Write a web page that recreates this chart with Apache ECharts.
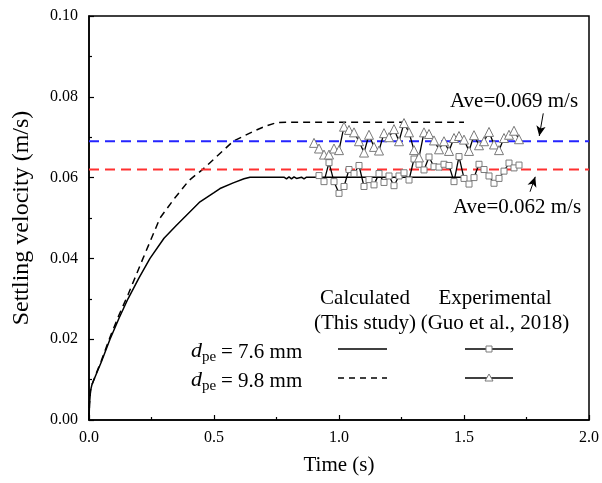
<!DOCTYPE html>
<html lang="en">
<head>
<meta charset="UTF-8">
<title>Settling velocity</title>
<script src="https://cdn.jsdelivr.net/npm/echarts@6/dist/echarts.min.js"></script>
<style>
  html, body { margin: 0; padding: 0; background: #fff; }
  #chart { width: 602px; height: 483px; }
</style>
</head>
<body>
<div id="chart"></div>
<script>
// calculated (this study), dpe = 7.6 mm
var calcTime76 = [0, 0.002, 0.006, 0.012, 0.03, 0.05, 0.084, 0.12, 0.156, 0.2, 0.244, 0.3, 0.35, 0.384, 0.444, 0.5, 0.524, 0.577, 0.62, 0.644, 0.7, 0.78, 0.79, 0.8, 0.81, 0.82, 0.83, 0.85, 0.86, 0.87, 1.5];
var calcVel76 = [0, 0.004, 0.0072, 0.0088, 0.0115, 0.0145, 0.020, 0.0252, 0.0300, 0.0352, 0.0400, 0.0450, 0.0482, 0.0503, 0.0540, 0.0563, 0.0573, 0.0587, 0.0597, 0.0601, 0.0601, 0.0601, 0.0597, 0.0602, 0.0597, 0.0602, 0.0598, 0.0601, 0.0597, 0.0601, 0.0601];
// calculated (this study), dpe = 9.8 mm
var calcTime98 = [0, 0.002, 0.006, 0.012, 0.03, 0.05, 0.084, 0.12, 0.156, 0.216, 0.284, 0.344, 0.4, 0.456, 0.5, 0.577, 0.656, 0.704, 0.75, 0.8, 1.5];
var calcVel98 = [0, 0.004, 0.0072, 0.0088, 0.0117, 0.0148, 0.0205, 0.026, 0.031, 0.040, 0.050, 0.055, 0.0593, 0.0621, 0.0646, 0.0690, 0.0714, 0.0727, 0.0736, 0.0737, 0.0737];

// experimental (Guo et al., 2018)
var expTime76 = [0.92, 0.94, 0.96, 0.98, 1.00, 1.02, 1.04, 1.06, 1.08, 1.10, 1.12, 1.14, 1.16, 1.18, 1.20, 1.22, 1.24, 1.26, 1.28, 1.30, 1.32, 1.34, 1.36, 1.38, 1.40, 1.42, 1.44, 1.46, 1.48, 1.50, 1.52, 1.54, 1.56, 1.58, 1.60, 1.62, 1.64, 1.66, 1.68, 1.70, 1.72];
var expVel76 = [0.0605, 0.0590, 0.0637, 0.0590, 0.0561, 0.0578, 0.0620, 0.0610, 0.0630, 0.0578, 0.0595, 0.0582, 0.0610, 0.0588, 0.0604, 0.0580, 0.0604, 0.0612, 0.0594, 0.0646, 0.0633, 0.0619, 0.0651, 0.0627, 0.0626, 0.0633, 0.0630, 0.0590, 0.0652, 0.0598, 0.0584, 0.0600, 0.0633, 0.0620, 0.0604, 0.0586, 0.0598, 0.0616, 0.0636, 0.0624, 0.0631];
var expTime98 = [0.90, 0.92, 0.94, 0.96, 0.98, 1.00, 1.02, 1.04, 1.06, 1.08, 1.10, 1.12, 1.14, 1.16, 1.18, 1.20, 1.22, 1.24, 1.26, 1.28, 1.30, 1.32, 1.34, 1.36, 1.38, 1.40, 1.42, 1.44, 1.46, 1.48, 1.50, 1.52, 1.54, 1.56, 1.58, 1.60, 1.62, 1.64, 1.66, 1.68, 1.70, 1.72];
var expVel98 = [0.0686, 0.0672, 0.0657, 0.0657, 0.0672, 0.0668, 0.0726, 0.0718, 0.0712, 0.0690, 0.0662, 0.0706, 0.0676, 0.0667, 0.0710, 0.0700, 0.0720, 0.0690, 0.0735, 0.0712, 0.0668, 0.0650, 0.0712, 0.0708, 0.0692, 0.0670, 0.0690, 0.0666, 0.0698, 0.0703, 0.0694, 0.0666, 0.0705, 0.0680, 0.0690, 0.0713, 0.0682, 0.0668, 0.0698, 0.0706, 0.0716, 0.0695];

// averages of the experiments
var aveVel = [0.069, 0.062];
var aveText = ['Ave=0.069 m/s', 'Ave=0.062 m/s'];

function pairs(xs, ys) {
    var out = [];
    for (var i = 0; i < xs.length; i++) out.push([xs[i], ys[i]]);
    return out;
}

var serif = '"Liberation Serif", "Times New Roman", serif';
var chart = echarts.init(document.getElementById('chart'));

function txt(x, y, s, font, align) {
    return { type: 'text', x: x, y: y, style: { text: s, font: font + ' ' + serif, fill: '#000', align: align || 'left', verticalAlign: 'middle' } };
}

var option = {
    animation: false,
    backgroundColor: '#fff',
    grid: { left: 89, right: 13, top: 16, bottom: 63, show: true, borderColor: '#000', borderWidth: 1.5, backgroundColor: 'transparent' },
    xAxis: {
        type: 'value', min: 0, max: 2, interval: 0.5,
        name: 'Time (s)', nameLocation: 'middle', nameGap: 35,
        nameTextStyle: { fontFamily: serif, fontSize: 21, color: '#000' },
        axisLine: { lineStyle: { color: '#000', width: 1.5 } },
        axisTick: { inside: true, length: 5, lineStyle: { color: '#000', width: 1.2 } },
        minorTick: { show: true, splitNumber: 2, length: 3, lineStyle: { color: '#000', width: 1.2 } },
        axisLabel: { fontFamily: serif, fontSize: 16, color: '#000', margin: 10, formatter: function (v) { return v.toFixed(1); } },
        splitLine: { show: false }
    },
    yAxis: {
        type: 'value', min: 0, max: 0.1, interval: 0.02,
        name: 'Settling velocity (m/s)', nameLocation: 'middle', nameGap: 55,
        nameTextStyle: { fontFamily: serif, fontSize: 24, color: '#000' },
        axisLine: { show: true, lineStyle: { color: '#000', width: 1.5 } },
        axisTick: { show: true, inside: true, length: 5, lineStyle: { color: '#000', width: 1.2 } },
        minorTick: { show: true, splitNumber: 2, length: 3, lineStyle: { color: '#000', width: 1.2 } },
        axisLabel: { fontFamily: serif, fontSize: 16, color: '#000', margin: 11, formatter: function (v) { return v.toFixed(2); } },
        splitLine: { show: false }
    },
    series: [
        {
            name: 'calc 7.6', type: 'line', showSymbol: false, symbol: 'none',
            data: pairs(calcTime76, calcVel76),
            lineStyle: { color: '#000', width: 1.5 }
        },
        {
            name: 'calc 9.8', type: 'line', showSymbol: false, symbol: 'none',
            data: pairs(calcTime98, calcVel98),
            lineStyle: { color: '#000', width: 1.5, type: [7, 5] }
        },
        {
            name: 'ave 9.8', type: 'line', symbol: 'none', z: 3,
            data: [[0, aveVel[0]], [2, aveVel[0]]],
            lineStyle: { color: '#2424ff', width: 2, type: [10, 6] },
            markLine: {
                silent: true, symbol: ['none', 'arrow'], symbolSize: [7, 10],
                label: { show: false },
                lineStyle: { color: '#000', width: 1, type: 'solid' },
                data: [
                    [{ coord: [1.817, 0.0759] }, { coord: [1.801, 0.0703] }],
                    [{ coord: [1.764, 0.0565] }, { coord: [1.785, 0.0602] }]
                ]
            }
        },
        {
            name: 'ave 7.6', type: 'line', symbol: 'none', z: 3,
            data: [[0, aveVel[1]], [2, aveVel[1]]],
            lineStyle: { color: '#ff3030', width: 2, type: [10, 6] }
        },
        {
            name: 'exp 7.6', type: 'line', symbol: 'rect', symbolSize: 6, z: 4,
            data: pairs(expTime76, expVel76),
            lineStyle: { color: '#000', width: 1.3 },
            itemStyle: { color: '#fff', borderColor: '#7a7a7a', borderWidth: 1 }
        },
        {
            name: 'exp 9.8', type: 'line', symbol: 'triangle', symbolSize: 9, z: 4,
            data: pairs(expTime98, expVel98),
            lineStyle: { color: '#000', width: 1.3 },
            itemStyle: { color: '#fff', borderColor: '#7a7a7a', borderWidth: 1 }
        }
    ],
    graphic: [
        txt(450, 101, aveText[0], '21px'),
        txt(453, 207, aveText[1], '21px'),
        // legend header
        txt(365, 298, 'Calculated', '21px', 'center'),
        txt(365, 323, '(This study)', '21px', 'center'),
        txt(495, 298, 'Experimental', '21px', 'center'),
        txt(495, 323, '(Guo et al., 2018)', '21px', 'center'),
        // legend rows
        txt(191, 351, 'd', 'italic 22px'),
        txt(202, 357, 'pe', '15px'),
        txt(221, 352, '= 7.6 mm', '21px'),
        txt(191, 380, 'd', 'italic 22px'),
        txt(202, 386, 'pe', '15px'),
        txt(221, 381, '= 9.8 mm', '21px'),
        { type: 'line', shape: { x1: 338, y1: 349, x2: 387, y2: 349 }, style: { stroke: '#000', lineWidth: 1.5 } },
        { type: 'line', shape: { x1: 338, y1: 378, x2: 387, y2: 378 }, style: { stroke: '#000', lineWidth: 1.5, lineDash: [6, 5] } },
        { type: 'line', shape: { x1: 465, y1: 349, x2: 513, y2: 349 }, style: { stroke: '#000', lineWidth: 1.5 } },
        { type: 'rect', shape: { x: 486, y: 346, width: 6, height: 6 }, style: { fill: '#fff', stroke: '#7a7a7a', lineWidth: 1 } },
        { type: 'line', shape: { x1: 465, y1: 378, x2: 513, y2: 378 }, style: { stroke: '#000', lineWidth: 1.5 } },
        { type: 'polygon', shape: { points: [[489, 374], [493, 381], [485, 381]] }, style: { fill: '#fff', stroke: '#7a7a7a', lineWidth: 1 } }
    ]
};

chart.setOption(option);
</script>
</body>
</html>
